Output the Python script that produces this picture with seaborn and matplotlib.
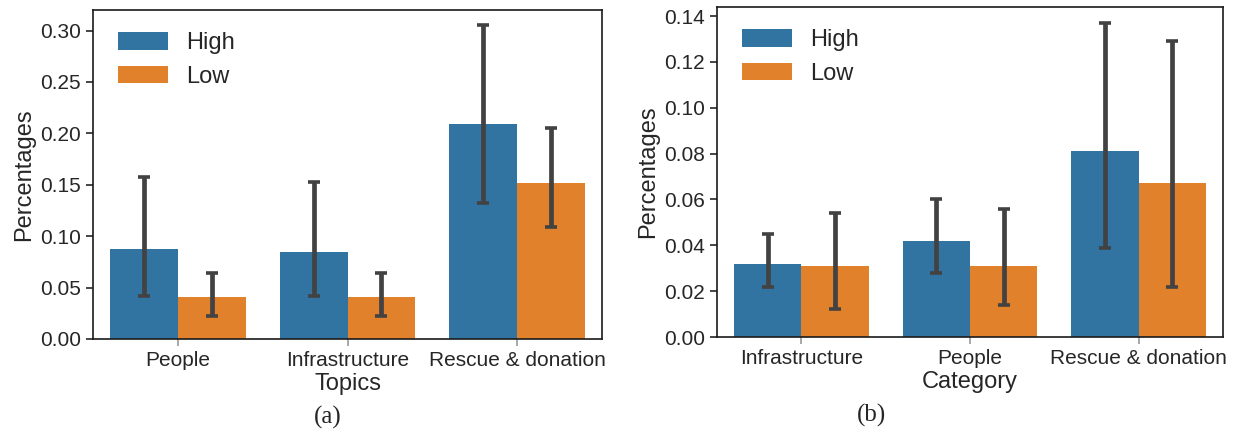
import matplotlib
matplotlib.use("Agg")
import matplotlib.pyplot as plt
import seaborn as sns
import pandas as pd

# (a) topics
topics = ["People", "Infrastructure", "Rescue & donation"]
topic_high = [0.088, 0.085, 0.209]
topic_low = [0.041, 0.041, 0.152]
topic_high_lo = [0.042, 0.042, 0.132]
topic_high_hi = [0.158, 0.153, 0.305]
topic_low_lo = [0.022, 0.022, 0.109]
topic_low_hi = [0.064, 0.064, 0.205]

# (b) categories
categories = ["Infrastructure", "People", "Rescue & donation"]
cat_high = [0.032, 0.042, 0.081]
cat_low = [0.031, 0.031, 0.067]
cat_high_lo = [0.022, 0.028, 0.039]
cat_high_hi = [0.045, 0.060, 0.137]
cat_low_lo = [0.012, 0.014, 0.022]
cat_low_hi = [0.054, 0.056, 0.129]

levels = ["High", "Low"]

sns.set_style("ticks")
plt.rcParams["font.family"] = ["Liberation Sans", "DejaVu Sans"]
plt.rcParams["axes.edgecolor"] = "0.1"
plt.rcParams["axes.linewidth"] = 1.2


def make_df(names, high, low, xname):
    return pd.DataFrame({
        xname: names + names,
        "level": ["High"] * len(names) + ["Low"] * len(names),
        "value": high + low,
    })


def draw_panel(ax, df, xname, lows, highs, ylim, yticks):
    sns.barplot(data=df, x=xname, y="value", hue="level", hue_order=levels,
                palette=["#1f77b4", "#ff7f0e"], errorbar=None, linewidth=0, ax=ax)
    for cont, lo, hi, mid in zip(ax.containers, lows, highs,
                                 [df[df.level == l]["value"].tolist() for l in levels]):
        xs = [b.get_x() + b.get_width() / 2 for b in cont]
        yerr = [[m - a for m, a in zip(mid, lo)], [b - m for m, b in zip(mid, hi)]]
        ax.errorbar(xs, mid, yerr=yerr, fmt="none", ecolor="0.26",
                    elinewidth=3.4, capsize=4.6, capthick=2.6, zorder=3)
    ax.set_ylim(*ylim)
    ax.set_yticks(yticks)
    ax.set_xlim(-0.5, 2.5)
    ax.set_ylabel("Percentages", fontsize=17)
    ax.set_xlabel(xname, fontsize=17, labelpad=2)
    ax.tick_params(axis="both", labelsize=15, length=5, width=1.2)
    ax.tick_params(axis="x", color="0.6")
    for s in ax.spines.values():
        s.set_visible(True)
    handles, labels = ax.get_legend_handles_labels()
    ax.legend(handles, labels, loc="upper left", frameon=False, fontsize=17,
              handlelength=2.1, handleheight=0.75, borderaxespad=0.4,
              bbox_to_anchor=(0.012, 0.99))


fig = plt.figure(figsize=(12.39, 4.34), dpi=100)
ax1 = fig.add_axes([0.0751, 0.2189, 0.4108, 0.7581])
ax2 = fig.add_axes([0.5787, 0.2235, 0.4084, 0.7604])

df_a = make_df(topics, topic_high, topic_low, "Topics")
draw_panel(ax1, df_a, "Topics", [topic_high_lo, topic_low_lo],
           [topic_high_hi, topic_low_hi], (0, 0.32),
           [0, 0.05, 0.10, 0.15, 0.20, 0.25, 0.30])

df_b = make_df(categories, cat_high, cat_low, "Category")
draw_panel(ax2, df_b, "Category", [cat_high_lo, cat_low_lo],
           [cat_high_hi, cat_low_hi], (0, 0.144),
           [0, 0.02, 0.04, 0.06, 0.08, 0.10, 0.12, 0.14])

fig.text(328 / 1239, 1 - 417 / 434, "(a)", ha="center", va="center",
         fontsize=18, family="Liberation Serif")
fig.text(872 / 1239, 1 - 415 / 434, "(b)", ha="center", va="center",
         fontsize=18, family="Liberation Serif")

fig.savefig("out.png", dpi=100)
